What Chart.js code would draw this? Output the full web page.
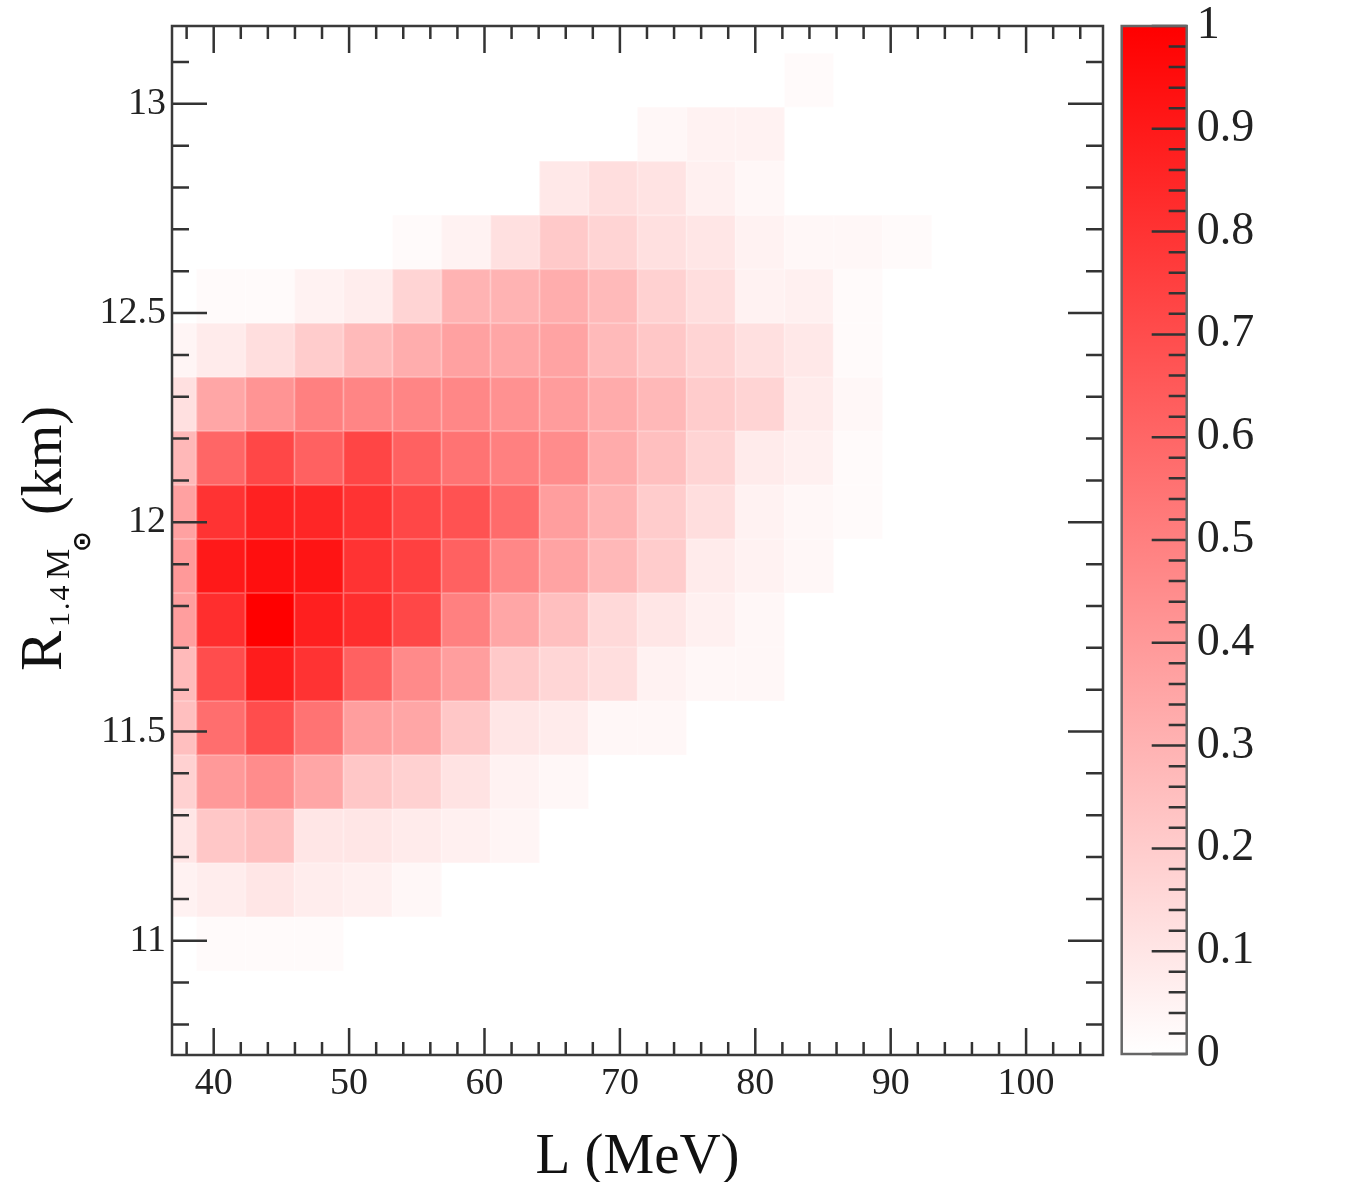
<!DOCTYPE html>
<html>
<head>
<meta charset="utf-8">
<script src="https://cdn.jsdelivr.net/npm/chart.js@4.4.1/dist/chart.umd.min.js"></script>
<style>
html,body{margin:0;padding:0;background:#fff;}
#wrap{position:relative;width:1353px;height:1182px;overflow:hidden;}
#main{position:absolute;left:0;top:0;}
#cbar{position:absolute;left:1100px;top:0;}
</style>
</head>
<body>
<div id="wrap">
<canvas id="main" width="1353" height="1182"></canvas>
<canvas id="cbar" width="253" height="1182"></canvas>
</div>
<script>
// ---------------- DATA ----------------
// L bin edges (MeV)
const lEdges = [35.10, 38.72, 42.34, 45.96, 49.58, 53.20, 56.82, 60.44, 64.06,
                67.68, 71.30, 74.92, 78.54, 82.16, 85.78, 89.40, 93.02];
// R_1.4 bin edges (km)
const rEdges = [10.928, 11.057, 11.186, 11.315, 11.444, 11.573, 11.702, 11.831, 11.960,
                12.089, 12.218, 12.347, 12.476, 12.605, 12.734, 12.863, 12.992, 13.121];
// normalised density, one row per R bin (bottom -> top), one column per L bin
const density = [
  [0.00,0.02,0.02,0.02,0.00,0.00,0.00,0.00,0.00,0.00,0.00,0.00,0.00,0.00,0.00,0.00],
  [0.05,0.07,0.10,0.07,0.06,0.03,0.00,0.00,0.00,0.00,0.00,0.00,0.00,0.00,0.00,0.00],
  [0.10,0.22,0.25,0.10,0.10,0.08,0.06,0.04,0.00,0.00,0.00,0.00,0.00,0.00,0.00,0.00],
  [0.18,0.40,0.45,0.35,0.22,0.18,0.11,0.05,0.03,0.00,0.00,0.00,0.00,0.00,0.00,0.00],
  [0.25,0.57,0.70,0.55,0.38,0.35,0.22,0.10,0.08,0.03,0.03,0.00,0.00,0.00,0.00,0.00],
  [0.27,0.70,0.89,0.80,0.62,0.46,0.38,0.21,0.16,0.13,0.05,0.03,0.03,0.00,0.00,0.00],
  [0.38,0.82,1.00,0.88,0.82,0.72,0.50,0.35,0.25,0.15,0.10,0.06,0.03,0.00,0.00,0.00],
  [0.40,0.90,0.94,0.92,0.80,0.75,0.62,0.47,0.36,0.28,0.20,0.08,0.05,0.03,0.00,0.00],
  [0.37,0.80,0.87,0.85,0.80,0.72,0.68,0.58,0.38,0.30,0.20,0.13,0.05,0.03,0.02,0.00],
  [0.28,0.60,0.72,0.62,0.73,0.62,0.55,0.50,0.45,0.33,0.25,0.17,0.08,0.06,0.02,0.00],
  [0.12,0.35,0.42,0.50,0.48,0.48,0.47,0.43,0.39,0.33,0.28,0.20,0.17,0.08,0.03,0.00],
  [0.04,0.08,0.13,0.20,0.27,0.32,0.37,0.35,0.36,0.27,0.22,0.17,0.12,0.09,0.02,0.00],
  [0.00,0.02,0.02,0.05,0.07,0.17,0.30,0.30,0.32,0.27,0.18,0.13,0.05,0.06,0.02,0.00],
  [0.00,0.00,0.00,0.00,0.00,0.02,0.05,0.12,0.21,0.17,0.12,0.10,0.05,0.03,0.03,0.02],
  [0.00,0.00,0.00,0.00,0.00,0.00,0.00,0.00,0.09,0.13,0.11,0.06,0.03,0.00,0.00,0.00],
  [0.00,0.00,0.00,0.00,0.00,0.00,0.00,0.00,0.00,0.00,0.03,0.05,0.05,0.00,0.00,0.00],
  [0.00,0.00,0.00,0.00,0.00,0.00,0.00,0.00,0.00,0.00,0.00,0.00,0.00,0.02,0.00,0.00]
];
// axes
const xRange = [36.92, 105.68];
const yRange = [10.727, 13.186];
const xTicks = [40, 50, 60, 70, 80, 90, 100];
const xMinorTicks = [38,42,44,46,48,52,54,56,58,62,64,66,68,72,74,76,78,82,84,86,88,92,94,96,98,102,104];
const yTicks = [11, 11.5, 12, 12.5, 13];
const yMinorTicks = [10.8,10.9,11.1,11.2,11.3,11.4,11.6,11.7,11.8,11.9,12.1,12.2,12.3,12.4,12.6,12.7,12.8,12.9,13.1];
const cbTicks = [0, 0.1, 0.2, 0.3, 0.4, 0.5, 0.6, 0.7, 0.8, 0.9, 1];
const cbMinorTicks = [0.02,0.04,0.06,0.08,0.12,0.14,0.16,0.18,0.22,0.24,0.26,0.28,0.32,0.34,0.36,0.38,
  0.42,0.44,0.46,0.48,0.52,0.54,0.56,0.58,0.62,0.64,0.66,0.68,0.72,0.74,0.76,0.78,0.82,0.84,0.86,0.88,
  0.92,0.94,0.96,0.98];
const xTitle = 'L (MeV)';

// ---------------- helpers ----------------
const SERIF = '"Liberation Serif", "DejaVu Serif", serif';
function colorFor(v) {
  const g = Math.round(255 * (1 - v));
  return 'rgb(255,' + g + ',' + g + ')';
}

// build scatter data (cell centres) from arrays
const cells = [];
for (let r = 0; r < density.length; r++) {
  for (let c = 0; c < density[r].length; c++) {
    if (density[r][c] > 0) {
      cells.push({x: (lEdges[c] + lEdges[c+1]) / 2, y: (rEdges[r] + rEdges[r+1]) / 2,
                  x0: lEdges[c], x1: lEdges[c+1], y0: rEdges[r], y1: rEdges[r+1], v: density[r][c]});
    }
  }
}

const heatPlugin = {
  id: 'heat',
  beforeDatasetsDraw(chart) {
    const {ctx, chartArea: a, scales: {x, y}} = chart;
    ctx.save();
    ctx.beginPath();
    ctx.rect(a.left, a.top, a.right - a.left, a.bottom - a.top);
    ctx.clip();
    chart.data.datasets[0].data.forEach(p => {
      const px0 = x.getPixelForValue(p.x0), px1 = x.getPixelForValue(p.x1);
      const py0 = y.getPixelForValue(p.y1), py1 = y.getPixelForValue(p.y0);
      ctx.fillStyle = colorFor(p.v);
      ctx.fillRect(px0, py0, px1 - px0, py1 - py0);
      ctx.strokeStyle = 'rgba(255,255,255,0.22)';
      ctx.lineWidth = 1;
      ctx.strokeRect(px0 + 0.5, py0 + 0.5, px1 - px0 - 1, py1 - py0 - 1);
    });
    ctx.restore();
  }
};

const framePlugin = {
  id: 'frame',
  afterDatasetsDraw(chart) {
    const {ctx, chartArea: a, scales: {x, y}} = chart;
    ctx.save();
    ctx.strokeStyle = '#333';
    ctx.lineWidth = 2.5;
    ctx.beginPath();
    const vt = (v, len) => {
      const px = x.getPixelForValue(v);
      ctx.moveTo(px, a.bottom); ctx.lineTo(px, a.bottom - len);
      ctx.moveTo(px, a.top); ctx.lineTo(px, a.top + len);
    };
    const ht = (v, len) => {
      const py = y.getPixelForValue(v);
      ctx.moveTo(a.left, py); ctx.lineTo(a.left + len, py);
      ctx.moveTo(a.right, py); ctx.lineTo(a.right - len, py);
    };
    xTicks.forEach(v => vt(v, 27));
    xMinorTicks.forEach(v => vt(v, 13));
    yTicks.forEach(v => ht(v, 35));
    yMinorTicks.forEach(v => ht(v, 17));
    ctx.stroke();
    ctx.strokeStyle = '#3a3a3a';
    ctx.lineWidth = 2.5;
    ctx.strokeRect(a.left, a.top, a.right - a.left, a.bottom - a.top);
    ctx.restore();
  },
  afterDraw(chart) {
    const {ctx, chartArea: a} = chart;
    ctx.save();
    ctx.fillStyle = '#111';
    // x title
    ctx.font = '57px ' + SERIF;
    ctx.textAlign = 'center';
    ctx.textBaseline = 'alphabetic';
    ctx.fillText(xTitle, (a.left + a.right) / 2, 1173);
    // y title (rotated, with subscript)
    ctx.translate(61, 671);
    ctx.rotate(-Math.PI / 2);
    ctx.textAlign = 'left';
    ctx.font = '60px ' + SERIF;
    ctx.fillText('R', 0, 0);
    ctx.font = '30px ' + SERIF;
    ctx.letterSpacing = '2px';
    ctx.fillText('1.4', 44, 8);
    ctx.letterSpacing = '0px';
    ctx.font = '34px ' + SERIF;
    ctx.fillText('M', 92, 8);
    ctx.font = 'bold 25px "DejaVu Sans", sans-serif';
    ctx.fillText('\u2299', 119, 29);
    ctx.font = '56px ' + SERIF;
    ctx.fillText('(km)', 156, 0);
    ctx.restore();
  }
};

const mainChart = new Chart(document.getElementById('main'), {
  type: 'scatter',
  data: {datasets: [{data: cells, pointRadius: 0, pointHoverRadius: 0, showLine: false}]},
  options: {
    responsive: false, animation: false, devicePixelRatio: 1,
    layout: {padding: {left: 0, top: 26, right: 250, bottom: 0}},
    plugins: {legend: {display: false}, tooltip: {enabled: false}},
    scales: {
      x: {
        type: 'linear', min: xRange[0], max: xRange[1],
        grid: {display: false, drawTicks: false}, border: {display: false},
        afterBuildTicks: s => { s.ticks = xTicks.map(v => ({value: v})); },
        afterFit: s => { s.height = 127; s.paddingLeft = 0; s.paddingRight = 0; },
        ticks: {font: {family: SERIF, size: 38}, color: '#222', padding: 6, maxRotation: 0, autoSkip: false,
                callback: v => String(v)}
      },
      y: {
        type: 'linear', min: yRange[0], max: yRange[1],
        grid: {display: false, drawTicks: false}, border: {display: false},
        afterBuildTicks: s => { s.ticks = yTicks.map(v => ({value: v})); },
        afterFit: s => { s.width = 172; s.paddingTop = 0; s.paddingBottom = 0; },
        ticks: {font: {family: SERIF, size: 38}, color: '#222', padding: 6, autoSkip: false,
                callback: v => String(v)}
      }
    }
  },
  plugins: [heatPlugin, framePlugin]
});

// ---------------- colour bar ----------------
const cbPlugin = {
  id: 'cbframe',
  afterDatasetsDraw(chart) {
    const {ctx, chartArea: a, scales: {y}} = chart;
    ctx.save();
    ctx.strokeStyle = '#333';
    ctx.lineWidth = 2.5;
    ctx.beginPath();
    cbTicks.forEach(v => { const py = y.getPixelForValue(v); ctx.moveTo(a.right, py); ctx.lineTo(a.right - 35, py); });
    cbMinorTicks.forEach(v => { const py = y.getPixelForValue(v); ctx.moveTo(a.right, py); ctx.lineTo(a.right - 18, py); });
    ctx.stroke();
    ctx.strokeStyle = '#666';
    ctx.lineWidth = 2.5;
    ctx.strokeRect(a.left, a.top, a.right - a.left, a.bottom - a.top);
    ctx.restore();
  }
};

const cbChart = new Chart(document.getElementById('cbar'), {
  type: 'bar',
  data: {
    labels: ['density'],
    datasets: [{
      data: [[cbTicks[0], cbTicks[cbTicks.length - 1]]],
      borderWidth: 0, barPercentage: 1, categoryPercentage: 1,
      backgroundColor: (c) => {
        const a = c.chart.chartArea;
        if (!a) return 'rgb(255,128,128)';
        const g = c.chart.ctx.createLinearGradient(0, a.bottom, 0, a.top);
        g.addColorStop(0, colorFor(0));
        g.addColorStop(1, colorFor(1));
        return g;
      }
    }]
  },
  options: {
    responsive: false, animation: false, devicePixelRatio: 1,
    layout: {padding: {left: 21.7, top: 26, right: 0, bottom: 128}},
    plugins: {legend: {display: false}, tooltip: {enabled: false}},
    scales: {
      x: {display: false},
      y: {
        position: 'right', min: 0, max: 1,
        grid: {display: false, drawTicks: false}, border: {display: false},
        afterBuildTicks: s => { s.ticks = cbTicks.map(v => ({value: v})); },
        afterFit: s => { s.width = 166.3; s.paddingTop = 0; s.paddingBottom = 0; },
        ticks: {font: {family: SERIF, size: 46}, color: '#222', padding: 10, autoSkip: false,
                callback: v => (v === 0 ? '0' : v === 1 ? '1' : v.toFixed(1))}
      }
    }
  },
  plugins: [cbPlugin]
});
</script>
</body>
</html>
